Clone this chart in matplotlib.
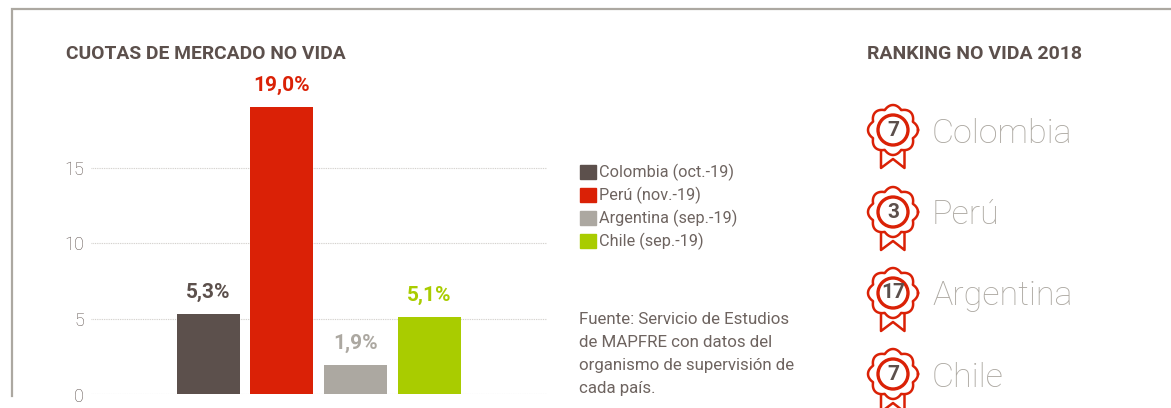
import matplotlib
matplotlib.use("Agg")
import matplotlib.pyplot as plt
import numpy as np
from matplotlib.patches import Circle, Patch
from matplotlib.transforms import ScaledTranslation

plt.rcParams['font.family'] = ['Roboto', 'DejaVu Sans']

# Data
countries = ['Colombia', 'Perú', 'Argentina', 'Chile']
periods = ['oct.-19', 'nov.-19', 'sep.-19', 'sep.-19']
shares = [5.3, 19.0, 1.9, 5.1]
share_labels = ['5,3%', '19,0%', '1,9%', '5,1%']
ranks = [7, 3, 17, 7]
y_ticks = [0, 5, 10, 15]

BROWN = '#5c504c'
SOFT = '#6e6460'
RED = '#da2106'
GREY = '#aca8a1'
GREEN = '#a9cc00'
colors = [BROWN, RED, GREY, GREEN]

W, H = 1171, 408
fig = plt.figure(figsize=(W / 100, H / 100), dpi=100)

# Overlay in pixel coordinates for the frame, titles and notes
bg = fig.add_axes([0, 0, 1, 1])
bg.set_xlim(0, W)
bg.set_ylim(H, 0)
bg.axis('off')
bg.plot([11.5, 11.5, W], [395.5, 8.5, 8.5], color=GREY, lw=1.6, solid_joinstyle='miter')

# Bar chart
left, right, y0 = 91, 547, 394
px_per_unit = 15.1
top = 60
step = 73.6
first = 208.2
ax = fig.add_axes([left / W, (H - y0) / H, (right - left) / W, (y0 - top) / H])
ax.patch.set_alpha(0)
ax.set_xlim((left - first) / step, (right - first) / step)
ax.set_ylim(0, (y0 - top) / px_per_unit)
ax.bar(range(len(shares)), shares, width=63 / step, color=colors, zorder=3)
for i, (v, lab) in enumerate(zip(shares, share_labels)):
    ax.annotate(lab, (i, v), xytext=(0, 15.5), textcoords='offset points', ha='center', va='center',
                color=colors[i], fontsize=15, fontweight='bold', clip_on=False)
ax.set_xticks([])
ax.set_yticks(y_ticks)
ax.set_yticklabels([str(t) for t in y_ticks], fontsize=13, color=BROWN, fontweight='light', va='center')
ax.tick_params(axis='y', length=0, pad=5)
# The tick labels sit a little below their grid lines
for lab in ax.get_yticklabels():
    lab.set_transform(lab.get_transform() + ScaledTranslation(0, -2.5 / 100, fig.dpi_scale_trans))
ax.grid(axis='y', color='#cfccc8', lw=0.8, ls=(0, (0.8, 0.8)), zorder=0)
for s in ax.spines.values():
    s.set_visible(False)

bg.text(66, 54, 'CUOTAS DE MERCADO NO VIDA', fontsize=13.9, fontweight='bold', color=BROWN, va='center')
bg.text(867, 54, 'RANKING NO VIDA 2018', fontsize=14, fontweight='bold', color=BROWN, va='center')

# Legend
handles = [Patch(color=c) for c in colors]
labels = [f'{c} ({p})' for c, p in zip(countries, periods)]
bg.legend(handles, labels, loc='upper left', bbox_to_anchor=(578 / W, 1 - 162.5 / H),
          bbox_transform=fig.transFigure, frameon=False, fontsize=11.7, labelcolor=SOFT,
          handlelength=1.0, handleheight=1.0, handletextpad=0.18, labelspacing=0.35,
          borderpad=0.1, borderaxespad=0)

note = ['Fuente: Servicio de Estudios', 'de MAPFRE con datos del',
        'organismo de supervisión de', 'cada país.']
for i, line in enumerate(note):
    bg.text(579, 320 + i * 22.8, line, fontsize=12.15, color=SOFT, va='center')

# Ranking medals
medal_x = 893
medal_y = [130, 212, 293, 374]
text_y = [134, 215, 296, 378]
theta = np.linspace(0, 2 * np.pi, 400)
for name, rank, my, ty in zip(countries, ranks, medal_y, text_y):
    r = 21.5 + 3.5 * np.abs(np.cos(4 * theta))
    bg.plot(medal_x + r * np.cos(theta), my + r * np.sin(theta), color=RED, lw=1.8, zorder=3)
    bg.add_patch(Circle((medal_x, my), 15, fill=False, ec=RED, lw=2.4, zorder=3))
    bg.plot([medal_x - 12, medal_x - 12, medal_x, medal_x + 11.5, medal_x + 11.5],
            [my + 22, my + 38, my + 29, my + 38, my + 22], color=RED, lw=1.8, zorder=2)
    bg.text(medal_x, my, str(rank), fontsize=15, fontweight='bold', color=BROWN, ha='center', va='center', zorder=4)
    bg.text(932, ty, name, fontsize=24.5, color=GREY, va='center', fontweight='light')

fig.savefig('out.png', dpi=100)
